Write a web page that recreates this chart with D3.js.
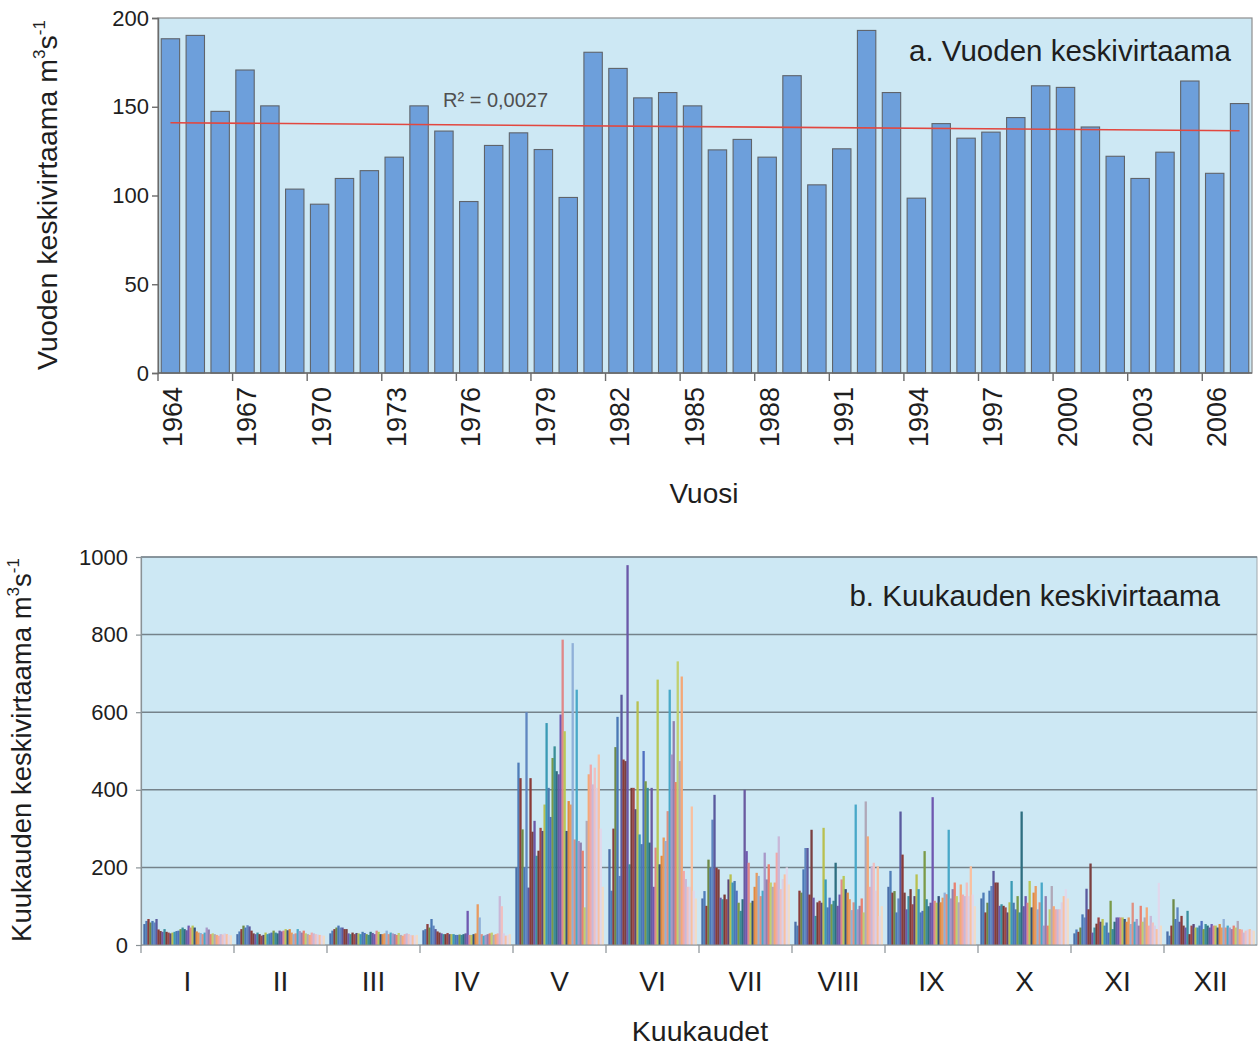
<!DOCTYPE html>
<html><head><meta charset="utf-8">
<script src="https://cdn.jsdelivr.net/npm/d3@7"></script>
<style>
body{margin:0;background:#fff}
svg{display:block}
text{font-family:"Liberation Sans",Arial,Helvetica,sans-serif;fill:#1e1e1e}
</style>
</head><body>
<svg id="chart" width="1258" height="1050"></svg>
<script>
// ---------- DATA ----------
const years = [1964,1965,1966,1967,1968,1969,1970,1971,1972,1973,1974,1975,1976,1977,1978,1979,1980,1981,1982,1983,1984,1985,1986,1987,1988,1989,1990,1991,1992,1993,1994,1995,1996,1997,1998,1999,2000,2001,2002,2003,2004,2005,2006,2007];
const annualFlow = [188.3,190.2,147.4,170.7,150.5,103.6,95.1,109.6,114.0,121.6,150.5,136.3,96.6,128.2,135.3,125.9,98.9,180.7,171.6,155,158,150.5,125.7,131.6,121.6,167.5,106,126.3,193,158,98.5,140.5,132.3,135.7,143.9,161.8,160.9,138.6,122.1,109.6,124.4,164.5,112.5,151.8];
const yearTickLabels = [1964,1967,1970,1973,1976,1979,1982,1985,1988,1991,1994,1997,2000,2003,2006];
const annualTicks = [0,50,100,150,200];
const r2Label = "R² = 0,0027";

const monthLabels = ["I","II","III","IV","V","VI","VII","VIII","IX","X","XI","XII"];
const monthlyTicks = [0,200,400,600,800,1000];
// monthly mean discharge, one value per year (1964..2007) in each month
const flowI    = [54,62,67,58,62,58,67,40,36,34,41,34,32,30,32,34,36,37,41,45,41,38,50,45,50,45,35,32,31,28,32,45,40,28,30,28,26,24,28,27,30,28,26,25];
const flowII   = [28,35,41,50,45,51,48,37,30,28,32,28,24,26,32,28,30,32,37,32,30,37,35,37,41,38,41,32,28,30,41,36,32,37,30,28,26,32,30,28,27,26,25,24];
const flowIII  = [30,37,41,45,50,45,45,41,41,30,28,32,28,31,30,28,34,31,28,26,34,31,28,37,34,28,28,30,37,28,32,30,28,26,31,26,24,28,30,28,26,25,24,26];
const flowIV   = [38,41,54,45,67,50,41,35,32,30,28,28,31,28,28,28,26,26,27,26,28,30,88,26,26,28,30,105,71,28,24,26,28,30,32,26,28,30,126,100,30,24,26,28];
const flowV    = [200,470,430,298,200,600,148,430,292,320,230,243,302,294,362,572,405,330,482,512,448,440,594,787,551,294,371,362,778,272,658,268,264,243,97,320,440,465,414,457,405,491,300,150];
const flowVI   = [247,140,300,510,588,178,645,478,474,979,208,405,405,350,628,285,260,500,422,405,264,405,150,251,684,208,230,277,268,345,658,491,577,420,731,474,692,191,170,150,150,357,140,120];
const flowVII  = [120,139,101,220,199,323,387,199,195,122,118,130,118,169,182,161,165,140,109,88,118,400,242,212,109,114,150,186,178,126,140,238,169,208,161,150,161,238,280,144,170,182,200,156];
const flowVIII = [60,50,140,135,195,250,250,130,297,122,75,110,114,109,302,169,97,122,105,114,212,101,130,169,178,144,135,118,90,110,362,92,101,120,84,370,280,150,203,212,140,203,75,100];
const flowIX   = [150,191,135,139,84,120,344,233,135,92,126,144,105,126,182,144,84,88,242,118,100,109,381,114,109,126,110,122,135,131,297,120,144,161,126,110,156,130,126,161,126,203,130,100];
const flowX    = [120,135,84,109,140,152,191,161,161,101,105,101,97,84,110,165,109,92,126,84,344,100,126,109,165,97,135,152,92,110,161,50,126,50,92,152,100,92,92,92,110,126,144,120];
const flowXI   = [30,40,34,45,79,71,145,92,210,32,45,55,71,60,67,50,58,32,114,41,60,71,71,71,71,67,60,71,54,109,60,67,50,101,60,71,97,50,75,58,50,41,160,50];
const flowXII  = [35,24,50,118,67,97,60,75,50,45,88,28,50,54,45,45,50,62,41,54,50,45,54,50,50,45,54,45,67,45,50,45,41,50,45,62,41,40,32,37,40,41,38,37];
const monthlyFlow = [flowI,flowII,flowIII,flowIV,flowV,flowVI,flowVII,flowVIII,flowIX,flowX,flowXI,flowXII];

// one colour per year series
const seriesColors = ["#4A6FA8","#4F7DB8","#8A3C3C","#6E8A48","#4A78B5","#5F86C0",
  "#5A5A9E","#8A3A38","#7A4040","#6B58A8","#3A8FA0","#7A3A35",
  "#A04848","#5A4678","#B8C050","#3A9AB5","#4A7AB0","#4F6FC0",
  "#7A9A48","#3A8E98","#2E6E80","#6A5AA0","#6F58B0","#E08888",
  "#B8C858","#34507A","#E08A40","#E89A60","#90B0D8","#E09080",
  "#48A8C8","#A898C8","#9080B0","#E88070","#C0D070","#B0A8B8",
  "#F4A878","#F0A8A8","#C8B8D8","#F0C0C0","#D8D0E8","#F8C0A0","#E0D8EC","#F0DCC8"];

// ---------- STYLE ----------
const plotBg = "#CDE8F4";
const svg = d3.select("#chart");

function supTitle(g, main, x, y, size, rotate, anchor){
  const t = g.append("text").attr("font-size", size).attr("text-anchor", anchor||"middle")
    .attr("transform", `translate(${x},${y})` + (rotate ? " rotate(-90)" : ""));
  t.append("tspan").text(main + " m");
  const s = Math.round(size*0.6), up = Math.round(size*0.42);
  t.append("tspan").attr("font-size", s).attr("dy", -up).text("3");
  t.append("tspan").attr("dy", up).text("s");
  t.append("tspan").attr("font-size", s).attr("dy", -up).text("-1");
  return t;
}

// ================= CHART A =================
const A = {l:158, r:1252, t:18, b:373};
const gA = svg.append("g");
const xA = d3.scaleBand().domain(years).range([A.l, A.r]).paddingInner(0.26).paddingOuter(0.13);
const yA = d3.scaleLinear().domain([0,200]).range([A.b, A.t]);

gA.append("rect").attr("x",A.l).attr("y",A.t).attr("width",A.r-A.l).attr("height",A.b-A.t)
  .attr("fill",plotBg).attr("stroke","#8e8e8e").attr("stroke-width",1.2);

gA.selectAll("rect.bar").data(years).join("rect").attr("class","bar")
  .attr("x", d => xA(d)).attr("width", xA.bandwidth())
  .attr("y", (d,i) => yA(annualFlow[i])).attr("height", (d,i) => yA(0) - yA(annualFlow[i]))
  .attr("fill","#6D9FDB").attr("stroke","#5f646b").attr("stroke-width",1.1);

// linear trend line computed from the data
const idx = years.map((d,i)=>i);
const mx = d3.mean(idx), my = d3.mean(annualFlow);
const slope = d3.sum(idx, i => (i-mx)*(annualFlow[i]-my)) / d3.sum(idx, i => (i-mx)*(i-mx));
const icpt = my - slope*mx;
const last = years.length-1;
gA.append("line")
  .attr("x1", xA(years[0]) + xA.bandwidth()/2).attr("y1", yA(icpt))
  .attr("x2", xA(years[last]) + xA.bandwidth()/2).attr("y2", yA(icpt + slope*last))
  .attr("stroke","#E2473F").attr("stroke-width",1.6);

gA.append("text").attr("x",443).attr("y",107).attr("font-size",20).style("fill","#505050").text(r2Label);

// y axis
const axA = gA.append("g").attr("transform",`translate(${A.l},0)`)
  .call(d3.axisLeft(yA).tickValues(annualTicks).tickSize(6).tickPadding(3).tickFormat(d3.format("d")));
axA.selectAll("text").attr("font-size",22).style("fill","#1e1e1e").attr("font-family",null);
axA.selectAll("line,path").attr("stroke","#6b6b6b").attr("stroke-width",1.4);

// x axis (labels at category centres, ticks at category boundaries every 3)
gA.append("line").attr("x1",A.l).attr("x2",A.r).attr("y1",A.b).attr("y2",A.b).attr("stroke","#6b6b6b").attr("stroke-width",1.4);
const gapA = (xA.step()-xA.bandwidth())/2;
gA.selectAll("line.xt").data(yearTickLabels).join("line").attr("class","xt")
  .attr("x1", d => xA(d)-gapA).attr("x2", d => xA(d)-gapA)
  .attr("y1", A.b).attr("y2", A.b+8).attr("stroke","#6b6b6b").attr("stroke-width",1.4);
gA.selectAll("text.yl").data(yearTickLabels).join("text").attr("class","yl")
  .attr("transform", d => `translate(${xA(d)+xA.bandwidth()/2+2},${A.b+14}) rotate(-90)`)
  .attr("text-anchor","end").attr("dy","0.35em").attr("font-size",27).text(d => d);

gA.append("text").attr("x",1231).attr("y",61).attr("text-anchor","end").attr("font-size",29.5).text("a. Vuoden keskivirtaama");
gA.append("text").attr("x",704).attr("y",503).attr("text-anchor","middle").attr("font-size",28).text("Vuosi");
supTitle(gA, "Vuoden keskivirtaama", 57, 195, 28.5, true);

// ================= CHART B =================
const B = {l:141, r:1257, t:557, b:945};
const gB = svg.append("g");
const xB = d3.scaleBand().domain(monthLabels).range([B.l, B.r]).paddingInner(0.05).paddingOuter(0.025);
const xS = d3.scaleBand().domain(years).range([0, xB.bandwidth()]);
const yB = d3.scaleLinear().domain([0,1000]).range([B.b, B.t]);

gB.append("rect").attr("x",B.l).attr("y",B.t).attr("width",B.r-B.l).attr("height",B.b-B.t)
  .attr("fill",plotBg).attr("stroke","#a0a8ad").attr("stroke-width",1);
gB.selectAll("line.grid").data(monthlyTicks.filter(d => d>0)).join("line").attr("class","grid")
  .attr("x1",B.l).attr("x2",B.r).attr("y1",d=>yB(d)).attr("y2",d=>yB(d))
  .attr("stroke","#75828a").attr("stroke-width",1.5);

const monthG = gB.selectAll("g.month").data(monthLabels).join("g").attr("class","month")
  .attr("transform", d => `translate(${xB(d)},0)`);
monthG.each(function(m, mi){
  d3.select(this).selectAll("rect").data(years).join("rect")
    .attr("x", d => xS(d)).attr("width", xS.bandwidth()+0.3)
    .attr("y", (d,i) => yB(monthlyFlow[mi][i]))
    .attr("height", (d,i) => yB(0) - yB(monthlyFlow[mi][i]))
    .attr("fill", (d,i) => seriesColors[i]);
});

const axB = gB.append("g").attr("transform",`translate(${B.l},0)`)
  .call(d3.axisLeft(yB).tickValues(monthlyTicks).tickSize(5).tickPadding(8).tickFormat(d3.format("d")));
axB.selectAll("text").attr("font-size",22).style("fill","#1e1e1e").attr("font-family",null);
axB.selectAll("line,path").attr("stroke","#8a9296").attr("stroke-width",1.2);

gB.append("line").attr("x1",B.l).attr("x2",B.r).attr("y1",B.b).attr("y2",B.b).attr("stroke","#8a9296").attr("stroke-width",1.2);
const gapB = (xB.step()-xB.bandwidth())/2;
gB.selectAll("line.mt").data(monthLabels).join("line").attr("class","mt")
  .attr("x1", d => xB(d)-gapB).attr("x2", d => xB(d)-gapB)
  .attr("y1", B.b).attr("y2", B.b+8).attr("stroke","#8a9296").attr("stroke-width",1.2);
gB.selectAll("text.ml").data(monthLabels).join("text").attr("class","ml")
  .attr("x", d => xB(d)+xB.bandwidth()/2).attr("y", 991).attr("text-anchor","middle")
  .attr("font-size",28).text(d => d);

gB.append("text").attr("x",1220).attr("y",606).attr("text-anchor","end").attr("font-size",29.5).text("b. Kuukauden keskivirtaama");
gB.append("text").attr("x",700).attr("y",1041).attr("text-anchor","middle").attr("font-size",28.5).text("Kuukaudet");
supTitle(gB, "Kuukauden keskivirtaama", 31, 750, 27.5, true);
</script>
</body></html>
